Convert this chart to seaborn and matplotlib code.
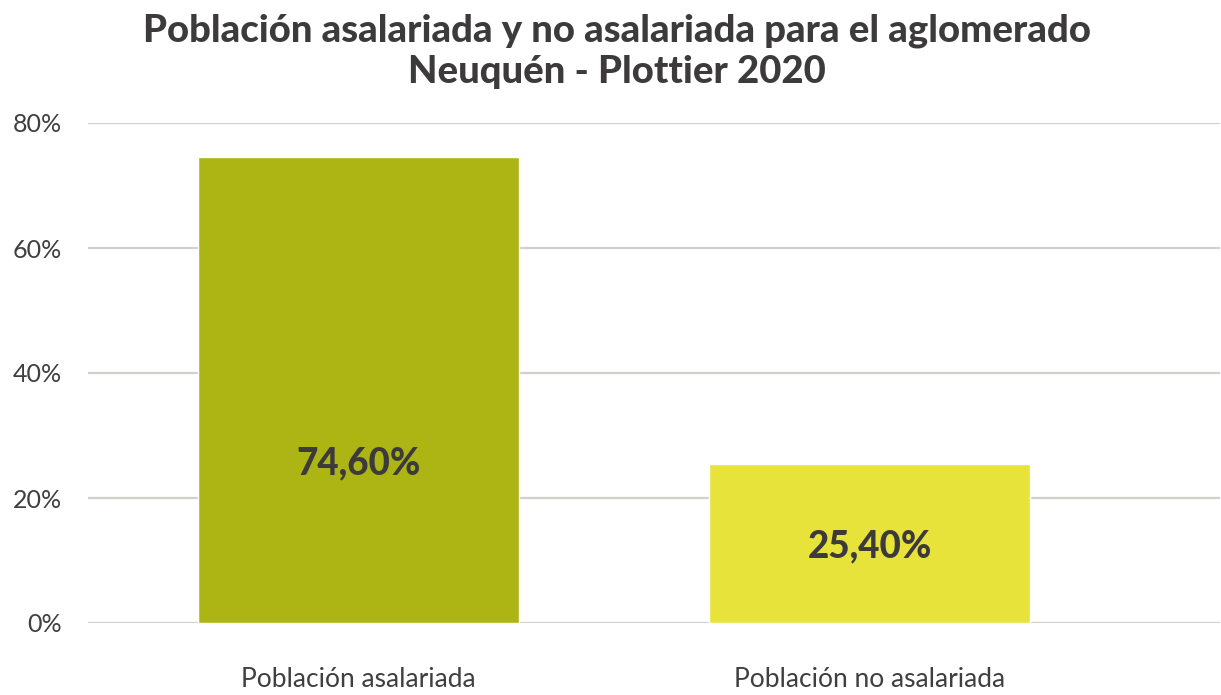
import matplotlib
matplotlib.use("Agg")
import matplotlib.pyplot as plt
import seaborn as sns
import pandas as pd

categorias = ["Población asalariada", "Población no asalariada"]
valores = [74.6, 25.4]
etiquetas = ["74,60%", "25,40%"]
colores = ["#ADB514", "#E8E33B"]
ticks_y = [0, 20, 40, 60, 80]
ticks_y_txt = ["0%", "20%", "40%", "60%", "80%"]
altura_etiqueta = [25.6, 12.2]

sns.set_theme(style="white")
plt.rcParams["font.family"] = ["Lato", "DejaVu Sans"]

df = pd.DataFrame({"categoria": categorias, "valor": valores})

fig = plt.figure(figsize=(12.21, 6.95), dpi=100)
ax = fig.add_axes([88 / 1221, 1 - 623 / 695, (1220 - 88) / 1221, 500 / 695])

sns.barplot(data=df, x="categoria", y="valor", hue="categoria",
            palette=colores, width=0.628, saturation=1, legend=False, ax=ax)

ax.set_ylim(0, 80)
ax.set_xlim(-0.53, 1.686)
ax.set_yticks(ticks_y)
ax.set_yticklabels(ticks_y_txt)
ax.yaxis.grid(True, color="#D0D0CC", linewidth=1.6)
ax.set_axisbelow(True)
for s in ax.spines.values():
    s.set_visible(False)
ax.set_xlabel("")
ax.set_ylabel("")
ax.tick_params(axis="y", length=0, pad=19, labelsize=18, labelcolor="#3F3F3F")
ax.tick_params(axis="x", length=0, pad=32, labelsize=19, labelcolor="#3F3F3F")

for i, (txt, h) in enumerate(zip(etiquetas, altura_etiqueta)):
    ax.text(i, h, txt, ha="center", va="center", fontsize=26.5,
            fontweight="black", color="#3D3A3B")

fig.text(0.505, 0.98, "Población asalariada y no asalariada para el aglomerado\nNeuquén - Plottier 2020",
         ha="center", va="top", fontsize=27.5, fontweight="black", color="#3D3A3B",
         linespacing=1.22)

fig.savefig("out.png", dpi=100)
